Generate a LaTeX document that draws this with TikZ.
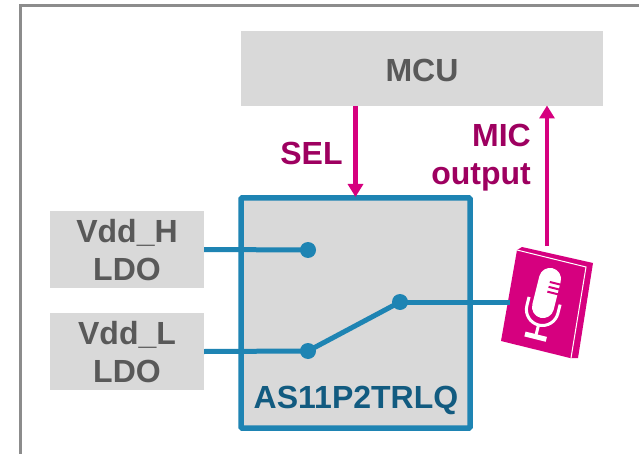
\documentclass[tikz,border=0pt]{standalone}
\usepackage{fontspec}
\setmainfont{Liberation Sans}
\usetikzlibrary{arrows.meta}
\definecolor{boxgray}{HTML}{D9D9D9}
\definecolor{txtgray}{HTML}{595959}
\definecolor{swblue}{HTML}{1E84B3}
\definecolor{txtblue}{HTML}{125B80}
\definecolor{mag}{HTML}{D6007F}
\definecolor{txtmag}{HTML}{9E0060}
\definecolor{framegray}{HTML}{8C8C8C}
\newcommand{\lowr}[2]{\raisebox{-#1}[\height][\depth]{#2}}
\tikzset{
 bigtext/.style={font=\fontsize{32}{38}\selectfont\bfseries,inner sep=0pt},
 graybox/.style={fill=boxgray,draw=none,bigtext,text=txtgray,align=center},
 sel/.style={bigtext,text=txtmag},
 wire/.style={draw=swblue,line width=5pt},
 dot/.style={circle,fill=swblue,minimum size=16pt,inner sep=0pt},
 marrow/.style={draw=mag,line width=4.5pt,-{Triangle[length=13pt,width=15pt]}}
}
\begin{document}
\begin{tikzpicture}[x=1pt,y=-1pt]
\useasboundingbox (0,0) rectangle (639,454);
\fill[white] (0,0) rectangle (639,454);
\draw[framegray,line width=3pt] (20,470) -- (20,6) -- (660,6);
\node[graybox,minimum width=362pt,minimum height=75pt] (mcu) at (422,68.5) {\lowr{2pt}{MCU}};
\node[graybox,minimum width=154pt,minimum height=77pt,text width=154pt] (h) at (127,249.5) {\lowr{1pt}{Vdd\_H}\\\lowr{1pt}{LDO}};
\node[graybox,minimum width=154pt,minimum height=77pt,text width=154pt] (l) at (127,351.5) {\lowr{1pt}{Vdd\_L}\\\lowr{1pt}{LDO}};
\node[draw=swblue,fill=boxgray,line width=5.5pt,rounded corners=1pt,minimum width=229pt,minimum height=230pt,inner sep=0pt] (sw) at (355.5,313) {};
\node[bigtext,text=txtblue] (name) at (356,400) {AS11P2TRLQ};
\node[dot] (d1) at (308,250) {};
\node[dot] (d2) at (308,351) {};
\node[dot] (d3) at (400,302) {};
\draw[wire] (h.east) -- (d1.center);
\draw[wire] (l.east) -- (d2.center);
\draw[wire] (d2.center) -- (d3.center);
% microphone device
\fill[mag] (517,250) -- (522,247) -- (593,263) -- (578,358) -- (570,358) -- (501,341) -- cycle;
\coordinate (mictop) at (547,246);
\coordinate (micleft) at (510,302);
\draw[white,line width=1pt] (517,250) -- (586,267) -- (571,358);
\begin{scope}[shift={(546.5,293)},x=1pt,y=1pt,rotate=-14]
 \fill[white] (-11,-14.5) -- (-11,14.5) arc (180:0:11) -- (11,-14.5) arc (0:-180:11) -- cycle;
 \draw[mag,line width=2pt] (0.5,11.5) -- (11.5,11.5) (0.5,6.5) -- (11.5,6.5) (0.5,1.5) -- (11.5,1.5);
 \draw[white,line width=3pt] (-16,-8) -- (-16,-17) arc (180:360:16) -- (16,-8);
 \draw[white,line width=3pt] (0,-33) -- (0,-45);
 \draw[white,line width=5pt] (-11,-45) -- (11,-45);
\end{scope}
\draw[wire] (d3.center) -- (micleft);
\draw[marrow] (mictop) -- (547,105.5);
\draw[marrow] (355.5,106) -- (355.5,197);
\node[sel] (seltxt) at (311.5,153) {SEL};
\node[sel,align=right] (mictxt) at (481,158) {MIC\\output};
\end{tikzpicture}
\end{document}
